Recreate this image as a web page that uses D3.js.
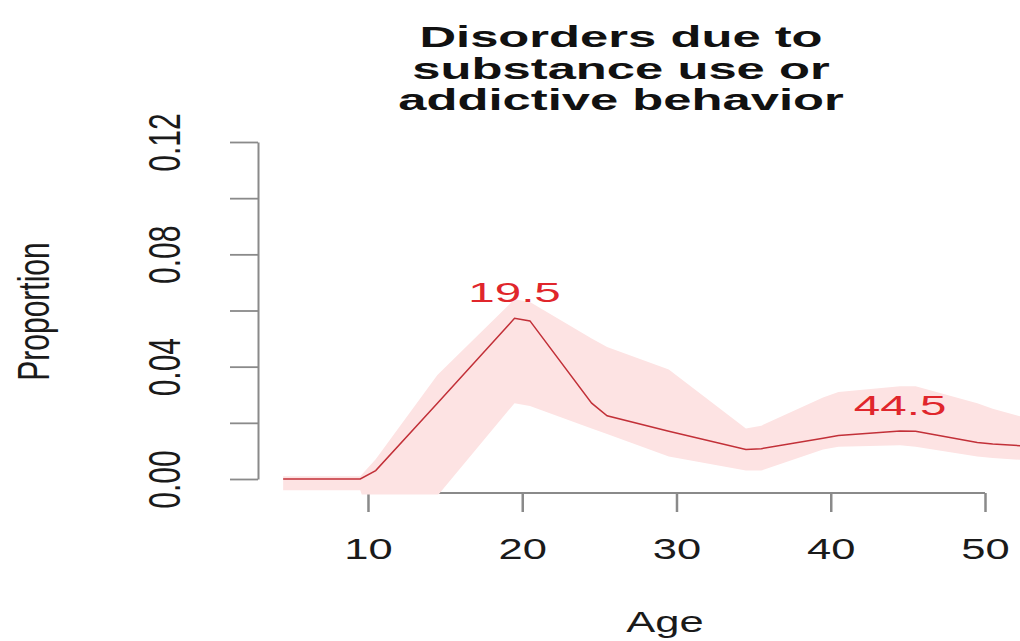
<meta charset="utf-8">
<title>Disorders due to substance use or addictive behavior</title>
<style>
  body { margin: 0; background: #fff; }
  text { font-family: "Liberation Sans", Arial, sans-serif; }
</style>
<body>
<script src="https://cdn.jsdelivr.net/npm/d3@7"></script>
<script>

// data
var ages  = [4.5, 9.5, 10.5, 14.5, 19.5, 20.5, 24.5, 25.5, 29.5, 34.5, 35.5, 39.5, 40.5, 44.5, 45.5, 49.5, 50.5, 54.5];
var prop  = [0, 0, 0.003, 0.027, 0.0572, 0.0563, 0.027, 0.0225, 0.017, 0.0105, 0.0108, 0.0145, 0.0155, 0.0171, 0.017, 0.013, 0.0125, 0.011];
var upper = [0.001, 0.001, 0.007, 0.037, 0.064, 0.063, 0.050, 0.047, 0.039, 0.018, 0.019, 0.029, 0.031, 0.033, 0.033, 0.027, 0.025, 0.019];
var lower = [-0.004, -0.004, -0.02, -0.006, 0.027, 0.026, 0.018, 0.016, 0.008, 0.003, 0.003, 0.0105, 0.0115, 0.012, 0.0115, 0.008, 0.0075, 0.006];

var xTicks = [10, 20, 30, 40, 50];
var yTicks = [0, 0.02, 0.04, 0.06, 0.08, 0.10, 0.12];
var yLabelTicks = [0, 0.04, 0.08, 0.12];
var peakAges = [19.5, 44.5];
var titleLines = ["Disorders due to", "substance use or", "addictive behavior"];

var width = 1020, height = 641;
var sx = 1.45; // the picture is stretched sideways

var svg = d3.select('body').append('svg')
    .attr('width', width)
    .attr('height', height);

var x = d3.scaleLinear().domain([2.87, 55.64]).range([258, 1072]);
var y = d3.scaleLinear().domain([0, 0.12]).range([479, 142]);

var plotTop = 128.5, plotBottom = 494.5;

svg.append('clipPath').attr('id', 'plotclip')
  .append('rect')
    .attr('x', x.range()[0]).attr('y', plotTop)
    .attr('width', x.range()[1] - x.range()[0])
    .attr('height', plotBottom - plotTop);

// x axis (R style: line only between first and last tick)
var xAxis = d3.axisBottom(x).tickValues(xTicks).tickSize(19).tickSizeOuter(0).tickFormat(d3.format('d'));
var gX = svg.append('g').attr('transform', 'translate(0,493)').call(xAxis);
gX.select('.domain').remove();
gX.append('line')
    .attr('x1', x(xTicks[0])).attr('x2', x(xTicks[xTicks.length - 1]))
    .attr('stroke', '#8a8a8a').attr('stroke-width', 2);
gX.selectAll('.tick line').attr('stroke', '#8a8a8a').attr('stroke-width', 2.5);
gX.selectAll('.tick text')
    .attr('y', 0).attr('dy', 0)
    .attr('transform', 'translate(0,66) scale(' + sx + ',1)')
    .attr('fill', '#1a1a1a')
    .style('font-size', '30px');

// y axis
var yAxis = d3.axisLeft(y).tickValues(yTicks).tickSize(28).tickSizeOuter(0)
    .tickFormat(function(d) { return yLabelTicks.some(function(v){ return Math.abs(v - d) < 1e-9; }) ? d3.format('.2f')(d) : ''; });
var gY = svg.append('g').attr('transform', 'translate(258,0)').call(yAxis);
gY.select('.domain').attr('stroke', '#8a8a8a').attr('stroke-width', 2);
gY.selectAll('.tick line').attr('stroke', '#8a8a8a').attr('stroke-width', 1.8);
gY.selectAll('.tick text')
    .attr('x', 0).attr('dy', 0)
    .attr('text-anchor', 'middle')
    .attr('transform', 'translate(-78,0) scale(' + sx + ',1) rotate(-90)')
    .attr('fill', '#1a1a1a')
    .style('font-size', '30px');

// confidence band + line
var pts = ages.map(function(a, i) { return { age: a, v: prop[i], hi: upper[i], lo: lower[i] }; });

var plot = svg.append('g').attr('clip-path', 'url(#plotclip)');
plot.append('path')
    .datum(pts)
    .attr('fill', '#fde3e3')
    .attr('d', d3.area()
      .x(function(d) { return x(d.age); })
      .y0(function(d) { return y(d.lo); })
      .y1(function(d) { return y(d.hi); }));

plot.append('path')
    .datum(pts)
    .attr('fill', 'none')
    .attr('stroke', '#c23038')
    .attr('stroke-width', 1.5)
    .attr('d', d3.line()
      .x(function(d) { return x(d.age); })
      .y(function(d) { return y(d.v); }));

// peak labels
svg.append('g').selectAll('text')
    .data(peakAges)
    .enter().append('text')
    .attr('transform', function(d) {
      var v = prop[ages.indexOf(d)];
      return 'translate(' + x(d) + ',' + (y(v) - 16) + ') scale(1.7,1)';
    })
    .attr('text-anchor', 'middle')
    .attr('fill', '#e0262c')
    .style('font-size', '28px')
    .text(function(d) { return d3.format('.1f')(d); });

// axis titles
svg.append('text')
    .attr('transform', 'translate(665,632) scale(' + sx + ',1)')
    .attr('text-anchor', 'middle')
    .attr('fill', '#1a1a1a')
    .style('font-size', '30px')
    .text('Age');

svg.append('text')
    .attr('transform', 'translate(49,' + ((plotTop + plotBottom) / 2) + ') scale(' + sx + ',1) rotate(-90)')
    .attr('text-anchor', 'middle')
    .attr('fill', '#1a1a1a')
    .style('font-size', '30px')
    .text('Proportion');

// title
svg.append('g').selectAll('text')
    .data(titleLines)
    .enter().append('text')
    .attr('transform', function(d, i) { return 'translate(621,' + (47 + i * 31.5) + ') scale(1.75,1)'; })
    .attr('text-anchor', 'middle')
    .attr('fill', '#111')
    .style('font-size', '29px')
    .style('font-weight', 'bold')
    .text(function(d) { return d; });

</script>
